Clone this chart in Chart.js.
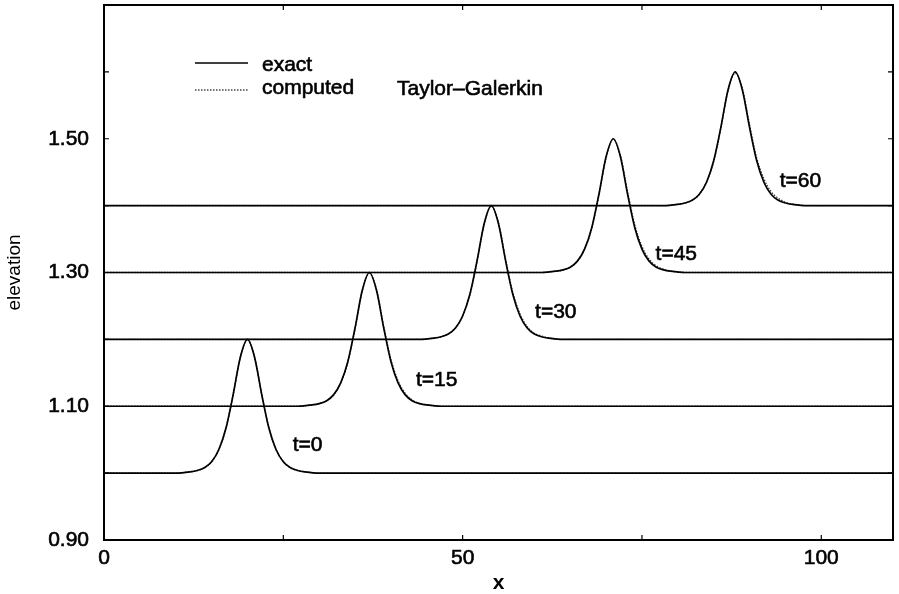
<!DOCTYPE html>
<html>
<head>
<meta charset="utf-8">
<script src="https://cdn.jsdelivr.net/npm/chart.js@4.4.1/dist/chart.umd.min.js"></script>
<style>
  body { margin: 0; background: #fff; }
</style>
</head>
<body>
<canvas id="chart" width="899" height="594"></canvas>
<script>
// Solitary wave profiles (exact vs computed)
const timeLabels = ["t=0", "t=15", "t=30", "t=45", "t=60"];
const labelX = [26.3, 43.5, 60.1, 76.9, 94.2];
const labelY = [1.042, 1.139, 1.240, 1.328, 1.437];

const xT0 = [0, 10, 12, 13, 14, 15, 16, 17, 18, 19, 20, 21, 22, 23, 24, 25, 26, 27, 28, 30, 110];
const exactT0 = [1.000, 1.000, 1.002, 1.004, 1.008, 1.017, 1.035, 1.067, 1.117, 1.173, 1.200, 1.173, 1.117, 1.067, 1.035, 1.017, 1.008, 1.004, 1.002, 1.000, 1.000];
const computedT0 = [1.000, 1.000, 1.002, 1.004, 1.008, 1.017, 1.035, 1.067, 1.117, 1.173, 1.200, 1.173, 1.117, 1.067, 1.035, 1.017, 1.008, 1.004, 1.002, 1.000, 1.000];

const xT15 = [0, 27, 29, 30, 31, 32, 33, 34, 35, 36, 37, 38, 39, 40, 41, 42, 43, 44, 45, 47, 110];
const exactT15 = [1.100, 1.100, 1.102, 1.104, 1.108, 1.117, 1.135, 1.167, 1.217, 1.273, 1.300, 1.273, 1.217, 1.167, 1.135, 1.117, 1.108, 1.104, 1.102, 1.100, 1.100];
const computedT15 = [1.100, 1.100, 1.102, 1.104, 1.108, 1.117, 1.135, 1.166, 1.216, 1.272, 1.299, 1.274, 1.219, 1.170, 1.138, 1.119, 1.109, 1.104, 1.102, 1.100, 1.100];

const xT30 = [0, 44, 46, 47, 48, 49, 50, 51, 52, 53, 54, 55, 56, 57, 58, 59, 60, 61, 62, 64, 110];
const exactT30 = [1.200, 1.200, 1.202, 1.204, 1.208, 1.217, 1.235, 1.267, 1.317, 1.373, 1.400, 1.373, 1.317, 1.267, 1.235, 1.217, 1.208, 1.204, 1.202, 1.200, 1.200];
const computedT30 = [1.200, 1.200, 1.202, 1.204, 1.208, 1.217, 1.235, 1.266, 1.316, 1.372, 1.399, 1.374, 1.319, 1.270, 1.238, 1.219, 1.209, 1.205, 1.202, 1.200, 1.200];

const xT45 = [0, 61, 63, 64, 65, 66, 67, 68, 69, 70, 71, 72, 73, 74, 75, 76, 77, 78, 79, 81, 110];
const exactT45 = [1.300, 1.300, 1.302, 1.304, 1.308, 1.317, 1.335, 1.367, 1.417, 1.473, 1.500, 1.473, 1.417, 1.367, 1.335, 1.317, 1.308, 1.304, 1.302, 1.300, 1.300];
const computedT45 = [1.300, 1.300, 1.302, 1.304, 1.308, 1.317, 1.335, 1.366, 1.416, 1.472, 1.499, 1.475, 1.420, 1.371, 1.339, 1.320, 1.310, 1.305, 1.302, 1.300, 1.300];

const xT60 = [0, 78, 80, 81, 82, 83, 84, 85, 86, 87, 88, 89, 90, 91, 92, 93, 94, 95, 96, 98, 110];
const exactT60 = [1.400, 1.400, 1.402, 1.404, 1.408, 1.417, 1.435, 1.467, 1.517, 1.573, 1.600, 1.573, 1.517, 1.467, 1.435, 1.417, 1.408, 1.404, 1.402, 1.400, 1.400];
const computedT60 = [1.400, 1.400, 1.402, 1.404, 1.408, 1.417, 1.435, 1.466, 1.516, 1.572, 1.598, 1.575, 1.521, 1.471, 1.440, 1.421, 1.411, 1.405, 1.402, 1.400, 1.400];

const xTickValues = [0, 25, 50, 75, 100];
const xTickLabels = [0, 50, 100];
const yTickValues = [0.9, 1.0, 1.1, 1.2, 1.3, 1.4, 1.5, 1.6];
const yTickLabels = ["0.90", "1.10", "1.30", "1.50"];

const FONT = '"Liberation Sans", Arial, Helvetica, sans-serif';

function toPoints(xs, ys) {
  return xs.map((x, i) => ({ x: x, y: ys[i] }));
}

const series = [
  [xT0, exactT0, computedT0],
  [xT15, exactT15, computedT15],
  [xT30, exactT30, computedT30],
  [xT45, exactT45, computedT45],
  [xT60, exactT60, computedT60],
];

const datasets = [];
series.forEach((s, i) => {
  datasets.push({
    label: "exact " + timeLabels[i],
    data: toPoints(s[0], s[1]),
    borderColor: "#000",
    borderWidth: 1.7,
    pointRadius: 0,
    cubicInterpolationMode: "monotone",
  });
  datasets.push({
    label: "computed " + timeLabels[i],
    data: toPoints(s[0], s[2]),
    borderColor: "#444",
    borderWidth: 1.4,
    borderDash: [1.5, 1.5],
    pointRadius: 0,
    cubicInterpolationMode: "monotone",
  });
});

// Frame, inward ticks, legend and text labels
const decorPlugin = {
  id: "decor",
  afterDatasetsDraw(chart) {
    const { ctx, chartArea: a, scales } = chart;
    const x = scales.x, y = scales.y;
    ctx.save();
    ctx.strokeStyle = "#000";
    ctx.lineWidth = 2;
    ctx.strokeRect(a.left, a.top, a.right - a.left, a.bottom - a.top);

    ctx.lineWidth = 1.2;
    ctx.beginPath();
    xTickValues.forEach(v => {
      const px = x.getPixelForValue(v);
      ctx.moveTo(px, a.bottom); ctx.lineTo(px, a.bottom - 5);
      ctx.moveTo(px, a.top); ctx.lineTo(px, a.top + 5);
    });
    yTickValues.forEach(v => {
      const py = y.getPixelForValue(v);
      ctx.moveTo(a.left, py); ctx.lineTo(a.left + 5, py);
      ctx.moveTo(a.right, py); ctx.lineTo(a.right - 5, py);
    });
    ctx.stroke();

    // legend
    ctx.lineWidth = 1.4;
    ctx.beginPath();
    ctx.moveTo(195, 63); ctx.lineTo(248, 63);
    ctx.stroke();
    ctx.setLineDash([1.5, 1.5]);
    ctx.strokeStyle = "#444";
    ctx.beginPath();
    ctx.moveTo(195, 90); ctx.lineTo(248, 90);
    ctx.stroke();
    ctx.setLineDash([]);

    ctx.fillStyle = "#000";
    ctx.strokeStyle = "#000";
    ctx.lineWidth = 0.6;
    ctx.font = "21px " + FONT;
    ctx.textBaseline = "middle";
    ctx.textAlign = "left";
    const txt = (s, px, py) => { ctx.fillText(s, px, py); ctx.strokeText(s, px, py); };
    txt("exact", 262, 65);
    txt("computed", 262, 88);
    txt("Taylor\u2013Galerkin", 397, 89);

    timeLabels.forEach((t, i) => {
      txt(t, x.getPixelForValue(labelX[i]), y.getPixelForValue(labelY[i]));
    });
    ctx.restore();
  },
};

new Chart(document.getElementById("chart"), {
  type: "line",
  data: { datasets: datasets },
  options: {
    responsive: false,
    animation: false,
    layout: { padding: { top: 5, right: 6, left: 0, bottom: 0 } },
    plugins: { legend: { display: false }, tooltip: { enabled: false } },
    scales: {
      x: {
        type: "linear",
        min: 0,
        max: 110,
        grid: { display: false, drawTicks: false },
        border: { display: false },
        afterBuildTicks: scale => {
          scale.ticks = xTickValues.map(v => ({ value: v }));
        },
        afterFit: scale => {
          scale.height = 54;
          scale.paddingLeft = 0;
          scale.paddingRight = 0;
        },
        ticks: {
          color: "#000",
          font: { family: FONT, size: 21 },
          textStrokeColor: "#000",
          textStrokeWidth: 0.6,
          padding: 6,
          maxRotation: 0,
          callback: v => (xTickLabels.includes(v) ? String(v) : ""),
        },
        title: {
          display: true,
          text: "x",
          color: "#000",
          font: { family: FONT, size: 21, weight: "bold" },
          padding: { top: 0, bottom: -2 },
        },
      },
      y: {
        type: "linear",
        min: 0.9,
        max: 1.7,
        grid: { display: false, drawTicks: false },
        border: { display: false },
        afterBuildTicks: scale => {
          scale.ticks = yTickValues.map(v => ({ value: v }));
        },
        afterFit: scale => {
          scale.width = 104;
          scale.paddingTop = 0;
          scale.paddingBottom = 0;
        },
        ticks: {
          color: "#000",
          font: { family: FONT, size: 21 },
          textStrokeColor: "#000",
          textStrokeWidth: 0.6,
          padding: 15,
          callback: v => {
            const s = v.toFixed(2);
            return yTickLabels.includes(s) ? s : "";
          },
        },
        title: {
          display: true,
          text: "elevation",
          color: "#000",
          font: { family: FONT, size: 19 },
          padding: { top: 3, bottom: 0 },
        },
      },
    },
  },
  plugins: [decorPlugin],
});
</script>
</body>
</html>
